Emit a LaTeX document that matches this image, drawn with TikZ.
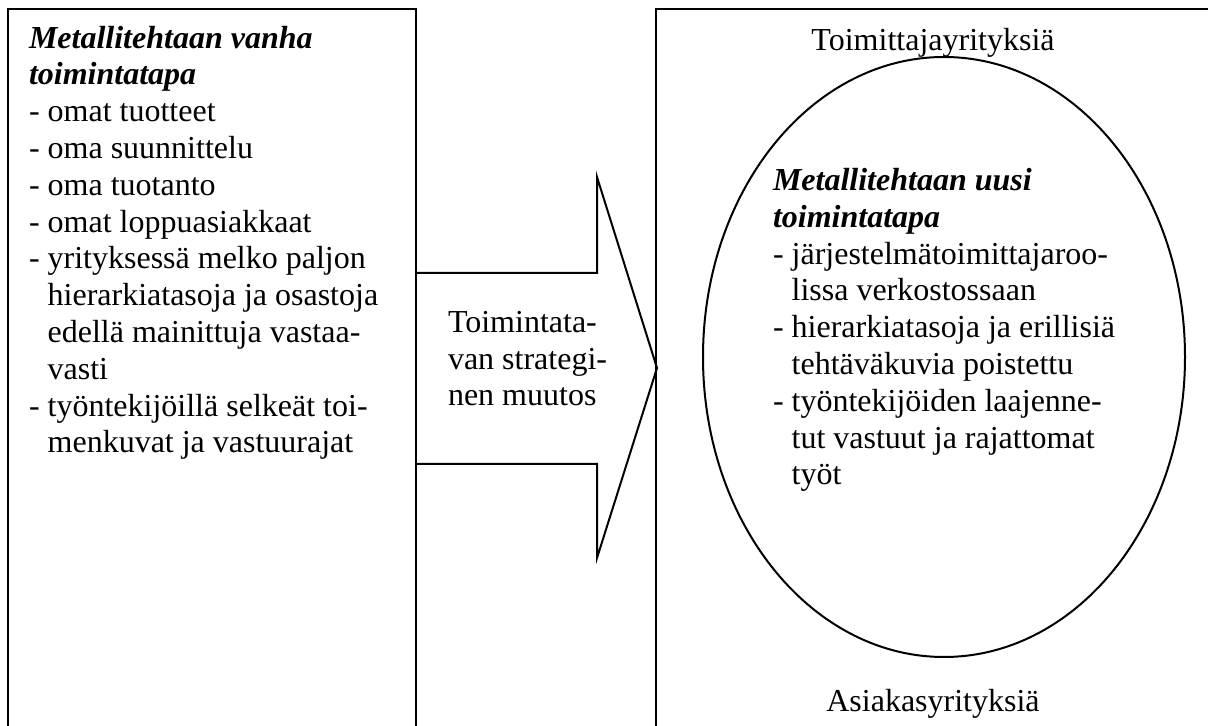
\documentclass[tikz,border=0pt]{standalone}
\usepackage{fontspec}
\setmainfont{Liberation Serif}
\usetikzlibrary{shapes.geometric}
\newcommand\indnt{\hphantom{-~}}
\begin{document}
\begin{tikzpicture}[x=0.375pt,y=-0.375pt,line width=0.75pt]
  \tikzstyle{txt}=[inner sep=0pt,anchor=base west,align=left,font=\fontsize{12}{13.8}\selectfont]
  \tikzstyle{lbl}=[inner sep=0pt,anchor=base,font=\fontsize{12}{13.8}\selectfont]
  \useasboundingbox (0,0) rectangle (1208,726);
  \clip (0,0) rectangle (1208,726);
  % boxes
  \draw (8,9) rectangle (416,740);
  \draw (656,9) rectangle (1220,740);
  % arrow
  \draw (416,273) -- (597,273) -- (597,177) -- (657,368) -- (597,558) -- (597,464) -- (416,464);
  \node[draw,ellipse,inner sep=0pt,minimum width=180.75pt,minimum height=225pt] (verkosto) at (944,357) {};
  % texts (anchored at the last line)
  \node[txt] (vanha) at (28,453) {\textbf{\textit{Metallitehtaan vanha}}\\
    \textbf{\textit{toimintatapa}}\\
    - omat tuotteet\\
    - oma suunnittelu\\
    - oma tuotanto\\
    - omat loppuasiakkaat\\
    - yrityksessä melko paljon\\
    \indnt hierarkiatasoja ja osastoja\\
    \indnt edellä mainittuja vastaa-\\
    \indnt vasti\\
    - työntekijöillä selkeät toi-\\
    \indnt menkuvat ja vastuurajat};
  \node[txt] (muutos) at (447,406) {Toimintata-\\van strategi-\\nen muutos};
  \node[txt] (uusi) at (772,485) {\textbf{\textit{Metallitehtaan uusi}}\\
    \textbf{\textit{toimintatapa}}\\
    - järjestelmätoimittajaroo-\\
    \indnt lissa verkostossaan\\
    - hierarkiatasoja ja erillisiä\\
    \indnt tehtäväkuvia poistettu\\
    - työntekijöiden laajenne-\\
    \indnt tut vastuut ja rajattomat\\
    \indnt työt};
  \node[lbl] (toimittajat) at (933,51) {Toimittajayrityksiä};
  \node[lbl] (asiakkaat) at (933,712) {Asiakasyrityksiä};
\end{tikzpicture}
\end{document}
